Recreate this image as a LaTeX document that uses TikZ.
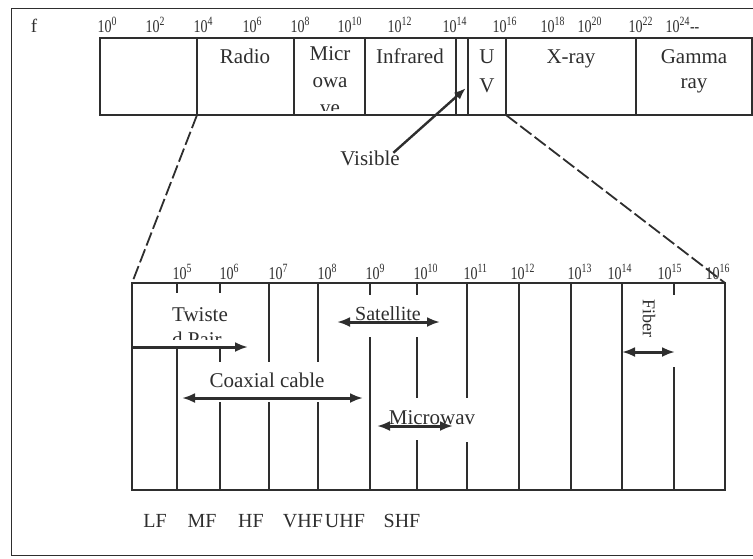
\documentclass[tikz,border=0pt]{standalone}
\usepackage{fontspec}
\setmainfont{Liberation Serif}
\newfontfamily\narrowserif{Liberation Serif}[FakeStretch=0.78]
\usetikzlibrary{arrows.meta}
\definecolor{ink}{HTML}{2E2E2E}

\begin{document}
\begin{tikzpicture}[x=1pt,y=-1pt,color=ink,line width=1.3pt,
 band/.style={font=\fontsize{21}{25}\selectfont,align=center,inner sep=0pt},
 expo/.style={font=\narrowserif\fontsize{18}{20}\selectfont,anchor=base west,inner sep=0pt},
 cellbox/.style={draw,anchor=north west,inner sep=0pt,outer sep=0pt},
 arr/.style={line width=3pt,-{Latex[length=13pt,width=10pt]}},
 darr/.style={line width=3pt,{Latex[length=13pt,width=10pt]}-{Latex[length=13pt,width=10pt]}},
 zoomline/.style={line width=1.8pt,dash pattern=on 14pt off 4pt}]
\useasboundingbox (0,0) rectangle (753,558);
\draw[line width=1pt] (753,8) -- (11,8) -- (11,555) -- (753,555);
\node[cellbox,minimum width=652pt,minimum height=77pt] (strip) at (100,38) {};
\node[cellbox,minimum width=593pt,minimum height=207pt] (lower) at (132,283) {};
\foreach \x in {197,294,365,456,468,506,636}
 \draw (\x,38) -- (\x,115);
\foreach \x/\e in {97/0,145/2,193/4,242/6,290/8,337/10,387/12,442/14,492/16,540/18,577/20,628/22}
 \node[expo] (top\e) at (\x,32) {10\textsuperscript{\e}};
\node[expo] (top24) at (665,32) {10\textsuperscript{24}-{}-};
\node[band,anchor=base,font=\fontsize{19}{22}\selectfont] (freq) at (34,32) {f};
\node[band,anchor=base] (radio) at (245,63) {Radio};
\begin{scope}
 \clip (295,39) rectangle (364,110);
 \node[band,font=\fontsize{21}{27}\selectfont] (micro) at (330,81) {Micr\\owa\\ve};
\end{scope}
\node[band,anchor=base] (infra) at (410,63) {Infrared};
\node[band,font=\fontsize{21}{29}\selectfont] (uv) at (487,71) {U\\V};
\node[band,anchor=base] (xray) at (571,63) {X-ray};
\node[band] (gamma) at (694,71) {Gamma\\ray};
\node[band,anchor=base] (vis) at (370,165) {Visible};
\coordinate (vispt) at (466,88);
\draw[line width=2.4pt,-{Latex[length=12pt,width=9pt]}] ([shift={(-7pt,-3pt)}]vis.north east) -- (vispt);
\coordinate (cut4) at (197,115);
\coordinate (cut16) at (506,115);
\draw[zoomline] (cut4) -- (lower.north west);
\draw[zoomline] (cut16) -- (lower.north east);
\foreach \x/\a/\b in {177/283/293,177/347/490,220/283/293,220/349/362,220/402/490,
 269/283/362,269/402/490,318/283/362,318/402/490,370/283/295,370/337/490,
 417/283/295,417/337/398,417/440/490,467/283/398,467/442/490,519/283/490,
 571/283/490,622/283/490,674/283/295,674/367/490}
 \draw (\x,\a) -- (\x,\b);
\foreach \x/\e in {172/5,219/6,268/7,317/8,365/9,413/10,463/11,510/12,567/13,607/14,657/15,705/16}
 \node[expo] (low\e) at (\x,279) {10\textsuperscript{\e}};
\begin{scope}
 \clip (133,290) rectangle (262,339);
 \node[band,align=left] (twist) at (200,327) {Twiste\\d Pair};
\end{scope}
\node[band,anchor=base] (coax) at (267,387) {Coaxial cable};
\node[band,anchor=base,font=\fontsize{20}{23}\selectfont] (sat) at (388,320) {Satellite};
\node[band,anchor=base] (mw) at (432,424) {Microwav};
\node[band,rotate=-90,font=\fontsize{18}{20}\selectfont] (fiber) at (649,318) {Fiber};
\draw[arr] (132,347) -- (248,347);
\draw[darr] (182,398) -- (363,398);
\draw[darr] (337,322) -- (440,322);
\draw[darr] (377,426) -- (453,426);
\draw[darr] (622,352) -- (675,352);
\foreach \x/\t in {155/LF,202/MF,251/HF,303/VHF,345/UHF,402/SHF}
 \node[band,anchor=base,font=\fontsize{20}{23}\selectfont] (\t) at (\x,527) {\t};
\end{tikzpicture}
\end{document}
